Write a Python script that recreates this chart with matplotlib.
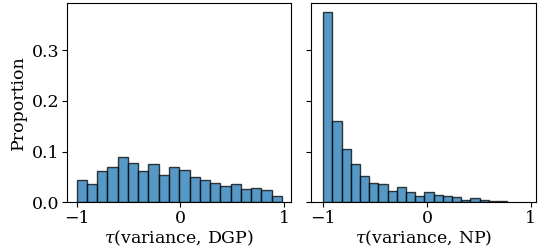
import matplotlib
matplotlib.use('Agg')
import matplotlib.pyplot as plt
import numpy as np

plt.rcParams['font.family'] = 'DejaVu Serif'
plt.rcParams['mathtext.fontset'] = 'dejavuserif'

# proporciones (20 bins cada panel)
dgp_props = [0.044, 0.0355, 0.061, 0.069, 0.089, 0.077, 0.062, 0.076, 0.053, 0.070,
             0.063, 0.050, 0.045, 0.0375, 0.0316, 0.037, 0.027, 0.0276, 0.0237, 0.0118]
np_props = [0.375, 0.1605, 0.105, 0.075, 0.052, 0.038, 0.036, 0.0224, 0.0296, 0.0204,
            0.0125, 0.0197, 0.0145, 0.0125, 0.0105, 0.0053, 0.0079, 0.004, 0.0026, 0.0026]
dgp_range = (-1.0, 0.98)
np_range = (-1.0, 0.774)
xlabels = [r'$\tau$(variance, DGP)', r'$\tau$(variance, NP)']

fig = plt.figure(figsize=(5.45, 2.52), dpi=100)
ax1 = fig.add_axes([0.1224, 0.197, 0.4116, 0.792])
ax2 = fig.add_axes([0.570, 0.197, 0.4135, 0.792], sharey=ax1)

fs = 12.5
color = '#1f77b4'
for ax, props, rng, lab in [(ax1, dgp_props, dgp_range, xlabels[0]),
                            (ax2, np_props, np_range, xlabels[1])]:
    edges = np.linspace(rng[0], rng[1], len(props) + 1)
    ax.bar(edges[:-1], props, width=np.diff(edges), align='edge',
           color=color, alpha=0.75, edgecolor='black', linewidth=1)
    ax.set_xlabel(lab, fontsize=fs, labelpad=1)
    ax.set_xticks([-1, 0, 1])
    ax.tick_params(labelsize=fs, pad=2)

ax1.set_xlim(-1.096, 1.068)
ax2.set_xlim(-1.12, 1.05)
ax1.set_ylim(0, 0.3937)
ax1.set_yticks([0.0, 0.1, 0.2, 0.3])
ax1.set_ylabel('Proportion', fontsize=fs, labelpad=3)
plt.setp(ax2.get_yticklabels(), visible=False)

plt.savefig('out.png', dpi=100)
